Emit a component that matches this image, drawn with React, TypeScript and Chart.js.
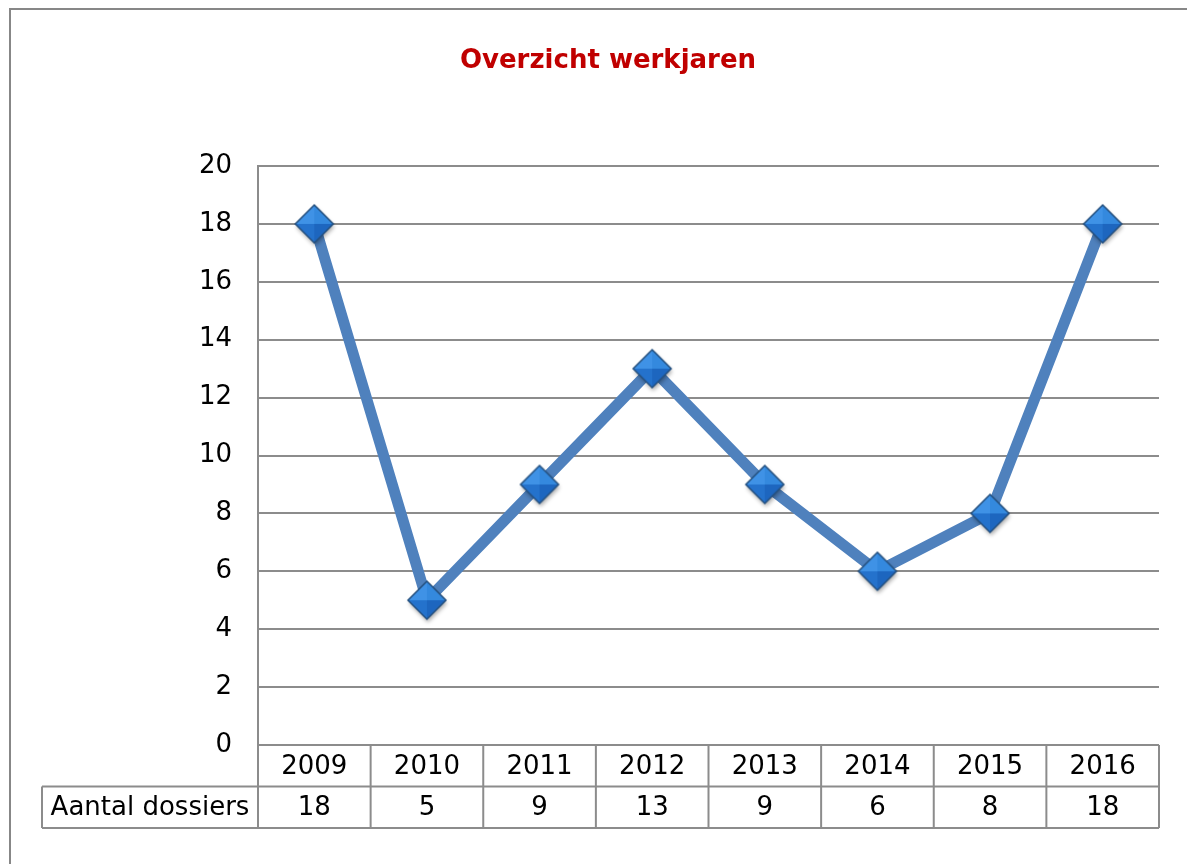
import React, { useEffect, useRef } from "react";
import { Chart, registerables } from "chart.js";

Chart.register(...registerables);

const TITLE = "Overzicht werkjaren";
const SERIES_NAME = "Aantal dossiers";
const YEARS = ["2009", "2010", "2011", "2012", "2013", "2014", "2015", "2016"];
const DOSSIERS = [18, 5, 9, 13, 9, 6, 8, 18];
const Y_MIN = 0;
const Y_MAX = 20;
const Y_STEP = 2;

const FONT = "'DejaVu Sans', Verdana, sans-serif";
const FONT_SIZE = 26;
const GRID = "#8c8c8c";

function makeDiamond(): HTMLCanvasElement {
  const c = document.createElement("canvas");
  c.width = 56;
  c.height = 56;
  const g = c.getContext("2d")!;
  const cx = 28, cy = 28, r = 19;
  g.save();
  g.shadowColor = "rgba(0,0,0,0.35)";
  g.shadowBlur = 4;
  g.shadowOffsetX = 1;
  g.shadowOffsetY = 3;
  g.beginPath();
  g.moveTo(cx, cy - r);
  g.lineTo(cx + r, cy);
  g.lineTo(cx, cy + r);
  g.lineTo(cx - r, cy);
  g.closePath();
  g.fillStyle = "#2a78d2";
  g.fill();
  g.restore();
  const tri = (pts: number[][], color: string) => {
    g.beginPath();
    g.moveTo(pts[0][0], pts[0][1]);
    g.lineTo(pts[1][0], pts[1][1]);
    g.lineTo(pts[2][0], pts[2][1]);
    g.closePath();
    g.fillStyle = color;
    g.fill();
  };
  tri([[cx, cy - r], [cx - r, cy], [cx, cy]], "#3f92e6");
  tri([[cx, cy - r], [cx + r, cy], [cx, cy]], "#3489de");
  tri([[cx - r, cy], [cx, cy + r], [cx, cy]], "#2472cc");
  tri([[cx + r, cy], [cx, cy + r], [cx, cy]], "#1d66bf");
  g.beginPath();
  g.moveTo(cx, cy - r);
  g.lineTo(cx + r, cy);
  g.lineTo(cx, cy + r);
  g.lineTo(cx - r, cy);
  g.closePath();
  g.lineWidth = 1.5;
  g.strokeStyle = "#24507f";
  g.stroke();
  return c;
}

const decorPlugin = {
  id: "decor",
  beforeDraw(chart: any) {
    const ctx = chart.ctx;
    ctx.save();
    ctx.fillStyle = "#ffffff";
    ctx.fillRect(0, 0, chart.width, chart.height);
    ctx.strokeStyle = "#878787";
    ctx.lineWidth = 2;
    ctx.beginPath();
    ctx.moveTo(10, chart.height);
    ctx.lineTo(10, 9);
    ctx.lineTo(chart.width, 9);
    ctx.stroke();
    ctx.fillStyle = "#c00000";
    ctx.font = `bold ${FONT_SIZE}px ${FONT}`;
    ctx.textAlign = "center";
    ctx.textBaseline = "middle";
    ctx.fillText(TITLE, 608, 61);
    ctx.restore();
  },
  afterDraw(chart: any) {
    const ctx = chart.ctx;
    const area = chart.chartArea;
    const xs = chart.scales.x;
    const n = YEARS.length;
    const band = (area.right - area.left) / n;
    const rowH = 41.5;
    const top = area.bottom;
    const mid = top + rowH;
    const bot = mid + rowH;
    const labelLeft = 42;
    ctx.save();
    ctx.strokeStyle = GRID;
    ctx.lineWidth = 2;
    ctx.beginPath();
    ctx.moveTo(labelLeft, mid);
    ctx.lineTo(area.right, mid);
    ctx.moveTo(labelLeft, bot);
    ctx.lineTo(area.right, bot);
    ctx.moveTo(labelLeft, mid);
    ctx.lineTo(labelLeft, bot);
    for (let i = 0; i <= n; i++) {
      const x = area.left + i * band;
      ctx.moveTo(x, top);
      ctx.lineTo(x, bot);
    }
    ctx.stroke();
    ctx.fillStyle = "#000000";
    ctx.font = `${FONT_SIZE}px ${FONT}`;
    ctx.textAlign = "center";
    ctx.textBaseline = "middle";
    for (let i = 0; i < n; i++) {
      const cx = xs.getPixelForValue(i);
      ctx.fillText(YEARS[i], cx, (top + mid) / 2 + 1);
      ctx.fillText(String(DOSSIERS[i]), cx, (mid + bot) / 2 + 1);
    }
    ctx.fillText(SERIES_NAME, (labelLeft + area.left) / 2, (mid + bot) / 2 + 1);
    ctx.restore();
  },
};

export default function App() {
  const ref = useRef<HTMLCanvasElement | null>(null);
  useEffect(() => {
    if (!ref.current) return;
    const diamond = makeDiamond();
    const chart = new Chart(ref.current, {
      type: "line",
      data: {
        labels: YEARS,
        datasets: [
          {
            label: SERIES_NAME,
            data: DOSSIERS,
            borderColor: "#4f81bd",
            borderWidth: 11,
            pointRadius: 0,
            pointHoverRadius: 0,
            tension: 0,
            fill: false,
            order: 1,
            clip: false as any,
          },
          {
            label: SERIES_NAME + " markers",
            data: DOSSIERS,
            showLine: false,
            pointStyle: diamond as any,
            pointRadius: 19,
            pointHoverRadius: 19,
            order: 0,
            clip: false as any,
          },
        ],
      },
      options: {
        animation: false,
        responsive: false,
        events: [],
        layout: { padding: { left: 0, right: 28, top: 166, bottom: 119 } },
        plugins: {
          legend: { display: false },
          title: { display: false },
          tooltip: { enabled: false },
        },
        scales: {
          x: {
            type: "category",
            display: false,
            offset: true,
          },
          y: {
            min: Y_MIN,
            max: Y_MAX,
            ticks: {
              stepSize: Y_STEP,
              color: "#000000",
              font: { family: FONT, size: FONT_SIZE },
              padding: 26,
            },
            grid: { color: GRID, lineWidth: 2, drawTicks: false },
            border: { display: true, color: GRID, width: 2 },
            afterFit: (scale: any) => {
              scale.width = 258;
            },
          },
        },
      },
      plugins: [decorPlugin],
    });
    return () => chart.destroy();
  }, []);
  return (
    <div style={{ position: "absolute", left: 0, top: 0, width: 1187, height: 864 }}>
      <canvas ref={ref} width={1187} height={864} />
    </div>
  );
}
